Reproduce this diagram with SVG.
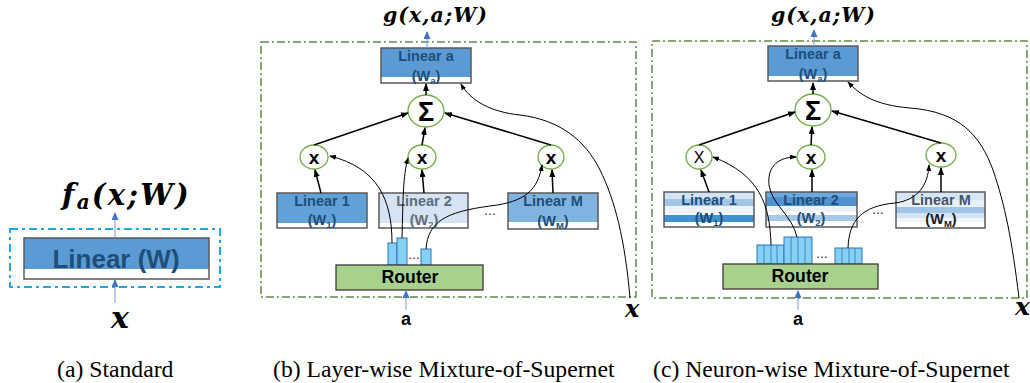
<svg xmlns="http://www.w3.org/2000/svg" width="1030" height="383" viewBox="0 0 1030 383">
<defs>
<style>
.edge{stroke:#595959;stroke-width:1.5;fill:none}
.lbl{font-family:"Liberation Sans",Arial,sans-serif;font-weight:bold;font-size:14.5px;text-anchor:middle}
.sub{font-size:9.5px}
.dk{fill:#1f4e79}
.gr{fill:#5d6d7e}
.circ{fill:#fff;stroke:#70ad47;stroke-width:1.3}
.op{font-family:"Liberation Sans",Arial,sans-serif;font-weight:bold;font-size:19px;text-anchor:middle;fill:#000}
.opl{font-family:"Liberation Sans",Arial,sans-serif;font-size:16px;text-anchor:middle;fill:#000}
.sig{font-family:"Liberation Sans",Arial,sans-serif;font-weight:bold;font-size:27px;text-anchor:middle;fill:#000}
.router{fill:#a9d18e;stroke:#3a3a3a;stroke-width:1.3}
.rt{font-family:"Liberation Sans",Arial,sans-serif;font-weight:bold;font-size:17.7px;text-anchor:middle;fill:#000}
.bar{fill:#85d1f5;stroke:#2e75b6;stroke-width:1}
.div{stroke:#2e75b6;stroke-width:0.8}
.math{font-family:"DejaVu Serif","Liberation Serif",serif;font-weight:bold;font-style:italic;fill:#000}
.cap{font-family:"Liberation Serif","Times New Roman",serif;font-size:23.7px;fill:#000}
.arr{stroke:#000;stroke-width:1.5;fill:none;marker-end:url(#ah)}
.cur{stroke:#000;stroke-width:1;fill:none;marker-end:url(#ah2)}
.barr{stroke:#8fa9dc;stroke-width:1.2;fill:none;marker-end:url(#bh)}
.gbox{fill:none;stroke:#5f8a45;stroke-width:1.5;stroke-dasharray:8 3 2 3}
.bbox{fill:none;stroke:#1ea7e0;stroke-width:2;stroke-dasharray:8 4 3 4}
.dots{font-family:"Liberation Sans",Arial,sans-serif;font-size:12px;fill:#000;text-anchor:middle}
.asub{font-family:"Liberation Sans",Arial,sans-serif;font-weight:bold;font-size:18px;text-anchor:middle;fill:#000}
</style>
<marker id="ah" markerUnits="userSpaceOnUse" markerWidth="8" markerHeight="6" refX="7" refY="3" orient="auto"><path d="M0,0 L8,3 L0,6 z" fill="#000"/></marker>
<marker id="ah2" markerUnits="userSpaceOnUse" markerWidth="7" markerHeight="5" refX="6" refY="2.5" orient="auto"><path d="M0,0 L7,2.5 L0,5 z" fill="#000"/></marker>
<marker id="bh" markerUnits="userSpaceOnUse" markerWidth="8" markerHeight="7" refX="7" refY="3.5" orient="auto"><path d="M0,0 L8,3.5 L0,7 z" fill="#4472c4"/></marker>
</defs>
<rect width="1030" height="383" fill="#fff"/>

<!-- ============ Panel (a) ============ -->
<g id="a-frame"><rect class="bbox" x="10" y="229" width="210" height="58"/></g>
<g id="a-linear">
<rect x="24" y="238" width="185" height="31" fill="#5b9bd5"/>
<rect class="edge" x="24" y="238" width="185" height="41"/>
<text x="116" y="268" font-family="Liberation Sans, Arial, sans-serif" font-weight="bold" font-size="26" text-anchor="middle" fill="#1f4e79">Linear (W)</text>
</g>
<g id="a-output"><text class="math" x="62" y="205" font-size="29" letter-spacing="2.2">f<tspan font-size="20" dy="4">a</tspan><tspan dy="-4">(x;W)</tspan></text></g>
<g id="a-input"><text class="math" x="111" y="328" font-size="30">x</text></g>
<g id="a-connectors">
<line class="barr" x1="115" y1="303" x2="115" y2="280"/>
<line class="barr" x1="115" y1="237" x2="115" y2="213"/>
</g>

<!-- ============ Panel (b) ============ -->
<g id="b-frame"><rect class="gbox" x="261" y="42" width="375" height="255"/></g>
<g id="b-output"><text class="math" x="383" y="22" font-size="20.5" letter-spacing="1">g(x,a;W)</text></g>
<g id="b-linear-a">
<rect x="381" y="48" width="90" height="29" fill="#5b9bd5"/>
<rect class="edge" x="381" y="48" width="90" height="35"/>
<text class="lbl dk" x="426" y="61">Linear a</text>
<text class="lbl dk" x="426" y="81">(W<tspan class="sub" dy="3">a</tspan><tspan dy="-3">)</tspan></text>
</g>
<g id="b-sum"><ellipse class="circ" cx="426" cy="111" rx="18" ry="16"/><text class="sig" x="426" y="121">Σ</text></g>
<g id="b-mul1"><ellipse class="circ" cx="314" cy="157" rx="14" ry="12"/><text class="op" x="314" y="164">x</text></g>
<g id="b-mul2"><ellipse class="circ" cx="422" cy="157" rx="14" ry="12"/><text class="op" x="422" y="164">x</text></g>
<g id="b-mulM"><ellipse class="circ" cx="551" cy="157" rx="13" ry="12"/><text class="op" x="551" y="164">x</text></g>
<g id="b-linear1">
<rect x="277" y="193" width="90" height="30" fill="#60a1d8"/>
<rect class="edge" x="277" y="193" width="90" height="35"/>
<text class="lbl dk" x="322" y="206">Linear 1</text>
<text class="lbl dk" x="322" y="225">(W<tspan class="sub" dy="3">1</tspan><tspan dy="-3">)</tspan></text>
</g>
<g id="b-linear2">
<rect x="379" y="193" width="89" height="30" fill="#d5e3f2"/>
<rect class="edge" x="379" y="193" width="89" height="35"/>
<text class="lbl gr" x="424" y="206">Linear 2</text>
<text class="lbl gr" x="424" y="225">(W<tspan class="sub" dy="3">2</tspan><tspan dy="-3">)</tspan></text>
</g>
<g id="b-dots"><text class="dots" x="490" y="215">…</text></g>
<g id="b-linearM">
<rect x="508" y="193" width="90" height="29" fill="#80b4e0"/>
<rect class="edge" x="508" y="193" width="90" height="36"/>
<text class="lbl dk" x="553" y="206">Linear M</text>
<text class="lbl dk" x="553" y="226">(W<tspan class="sub" dy="3">M</tspan><tspan dy="-3">)</tspan></text>
</g>
<g id="b-router">
<rect class="bar" x="388" y="243" width="9" height="22"/>
<rect class="bar" x="397" y="238" width="10" height="27"/>
<rect class="bar" x="421" y="249" width="10" height="16"/>
<text class="dots" x="414" y="259">…</text>
<rect class="router" x="336" y="265" width="147" height="25"/>
<text class="rt" x="410" y="283">Router</text>
</g>
<g id="b-input-a"><text class="asub" x="406" y="325">a</text></g>
<g id="b-input-x"><text class="math" x="625" y="317" font-size="24">x</text></g>
<g id="b-connectors">
<line class="barr" x1="427" y1="48" x2="427" y2="32"/>
<line class="arr" x1="426" y1="95" x2="426" y2="84"/>
<line class="arr" x1="314" y1="145" x2="408" y2="113"/>
<line class="arr" x1="422" y1="145" x2="425" y2="128"/>
<line class="arr" x1="551" y1="145" x2="445" y2="113"/>
<line class="arr" x1="321" y1="193" x2="315" y2="170"/>
<line class="arr" x1="424" y1="193" x2="422" y2="170"/>
<line class="arr" x1="553" y1="193" x2="552" y2="170"/>
<path class="cur" d="M392 243 C392 200 378 168 330 156"/>
<path class="cur" d="M402 238 C403 200 403 175 408 158"/>
<path class="cur" d="M426 249 C428 222 445 212 490 206 C525 202 538 190 542 165"/>
<path class="cur" d="M630 298 C625 240 615 200 600 170 C585 140 560 120 520 115 C490 112 470 100 461 84"/>
<line class="barr" x1="406" y1="310" x2="406" y2="291"/>
</g>

<!-- ============ Panel (c) ============ -->
<g id="c-frame"><rect class="gbox" x="652" y="41" width="375" height="257"/></g>
<g id="c-output"><text class="math" x="771" y="22" font-size="20.5" letter-spacing="1">g(x,a;W)</text></g>
<g id="c-linear-a">
<rect x="768" y="46" width="90" height="30" fill="#5b9bd5"/>
<rect class="edge" x="768" y="46" width="90" height="35"/>
<text class="lbl dk" x="813" y="59">Linear a</text>
<text class="lbl dk" x="813" y="79">(W<tspan class="sub" dy="3">a</tspan><tspan dy="-3">)</tspan></text>
</g>
<g id="c-sum"><ellipse class="circ" cx="813" cy="110" rx="18" ry="16"/><text class="sig" x="813" y="120">Σ</text></g>
<g id="c-mul1"><ellipse class="circ" cx="699" cy="157" rx="13" ry="12"/><text class="opl" x="699" y="163">X</text></g>
<g id="c-mul2"><ellipse class="circ" cx="811" cy="157" rx="14" ry="12"/><text class="op" x="811" y="164">x</text></g>
<g id="c-mulM"><ellipse class="circ" cx="941" cy="155" rx="15" ry="12"/><text class="op" x="941" y="162">x</text></g>
<g id="c-linear1">
<rect x="664" y="192" width="90" height="7" fill="#d3e3f4"/>
<rect x="664" y="199" width="90" height="7" fill="#a3c5e6"/>
<rect x="664" y="206" width="90" height="7" fill="#edf3fa"/>
<rect x="664" y="215" width="90" height="7" fill="#4291d2"/>
<rect class="edge" x="664" y="192" width="90" height="35"/>
<text class="lbl dk" x="709" y="205">Linear 1</text>
<text class="lbl dk" x="709" y="223">(W<tspan class="sub" dy="3">1</tspan><tspan dy="-3">)</tspan></text>
</g>
<g id="c-linear2">
<rect x="766" y="192" width="91" height="5" fill="#6ea8dd"/>
<rect x="766" y="197" width="91" height="9" fill="#4f92d1"/>
<rect x="766" y="206" width="91" height="6" fill="#edf3fa"/>
<rect x="766" y="215" width="91" height="6" fill="#a7c8e7"/>
<rect class="edge" x="766" y="192" width="91" height="35"/>
<text class="lbl dk" x="811" y="205">Linear 2</text>
<text class="lbl dk" x="811" y="223">(W<tspan class="sub" dy="3">2</tspan><tspan dy="-3">)</tspan></text>
</g>
<g id="c-dots"><text class="dots" x="878" y="214">…</text></g>
<g id="c-linearM">
<rect x="896" y="192" width="89" height="8" fill="#d6e5f5"/>
<rect x="896" y="200" width="89" height="7" fill="#e8f0f9"/>
<rect x="896" y="207" width="89" height="6" fill="#9fc4e6"/>
<rect x="896" y="213" width="89" height="5" fill="#d6e5f5"/>
<rect x="896" y="218" width="89" height="4" fill="#eef4fa"/>
<rect class="edge" x="896" y="192" width="89" height="36"/>
<text class="lbl" x="941" y="205" fill="#44546a">Linear M</text>
<text class="lbl" x="941" y="224" fill="#1a1a1a">(W<tspan class="sub" dy="3">M</tspan><tspan dy="-3">)</tspan></text>
</g>
<g id="c-router">
<rect class="bar" x="757" y="245" width="27" height="19"/>
<line class="div" x1="764" y1="245" x2="764" y2="264"/><line class="div" x1="771" y1="245" x2="771" y2="264"/><line class="div" x1="777" y1="245" x2="777" y2="264"/>
<rect class="bar" x="784" y="237" width="28" height="27"/>
<line class="div" x1="791" y1="237" x2="791" y2="264"/><line class="div" x1="798" y1="237" x2="798" y2="264"/><line class="div" x1="805" y1="237" x2="805" y2="264"/>
<rect class="bar" x="835" y="248" width="27" height="16"/>
<line class="div" x1="842" y1="248" x2="842" y2="264"/><line class="div" x1="849" y1="248" x2="849" y2="264"/><line class="div" x1="855" y1="248" x2="855" y2="264"/>
<text class="dots" x="822" y="258">…</text>
<rect class="router" x="723" y="264" width="155" height="25"/>
<text class="rt" x="800" y="282">Router</text>
</g>
<g id="c-input-a"><text class="asub" x="798" y="325">a</text></g>
<g id="c-input-x"><text class="math" x="1015" y="315" font-size="25">x</text></g>
<g id="c-connectors">
<line class="barr" x1="814" y1="46" x2="814" y2="30"/>
<line class="arr" x1="813" y1="94" x2="813" y2="83"/>
<line class="arr" x1="699" y1="145" x2="795" y2="112"/>
<line class="arr" x1="811" y1="145" x2="812" y2="127"/>
<line class="arr" x1="941" y1="143" x2="832" y2="111"/>
<line class="arr" x1="709" y1="192" x2="701" y2="170"/>
<line class="arr" x1="812" y1="192" x2="812" y2="170"/>
<line class="arr" x1="941" y1="192" x2="941" y2="168"/>
<path class="cur" d="M771 245 C770 205 760 175 713 157"/>
<path class="cur" d="M797 237 C792 215 772 205 769 185 C767 165 780 157 796 157"/>
<path class="cur" d="M848 248 C849 220 862 206 895 203 C918 200 928 185 929 165"/>
<path class="cur" d="M1019 298 C1012 240 1005 205 993 170 C980 135 960 112 910 108 C875 105 860 95 848 82"/>
<line class="barr" x1="798" y1="310" x2="798" y2="291"/>
</g>

<!-- ============ Captions ============ -->
<text class="cap" x="57" y="377">(a) Standard</text>
<text class="cap" x="273" y="377">(b) Layer-wise Mixture-of-Supernet</text>
<text class="cap" x="653" y="377">(c) Neuron-wise Mixture-of-Supernet</text>
</svg>
